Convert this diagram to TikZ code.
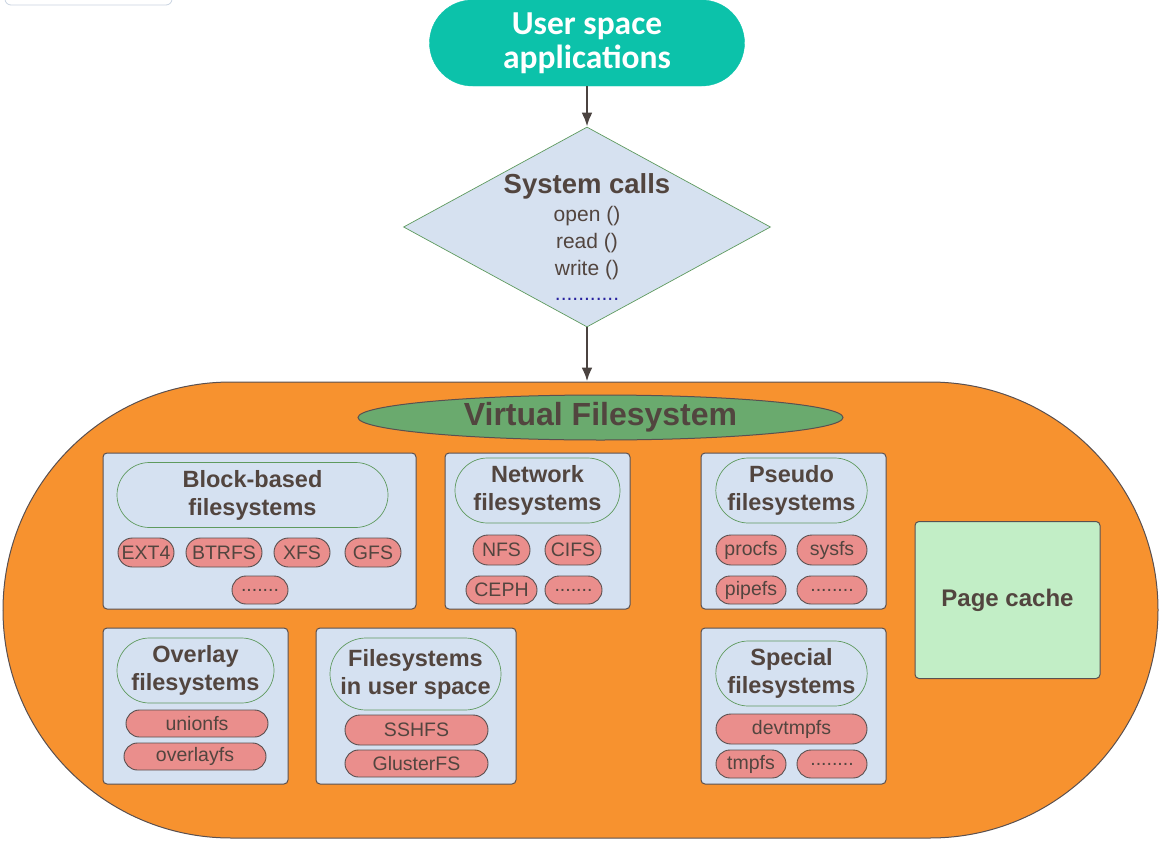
\documentclass[tikz,border=0pt]{standalone}
\usepackage{fontspec}
\setmainfont{Liberation Sans}
\newfontfamily\calfont{Carlito}
\usetikzlibrary{shapes.geometric,shapes.misc,arrows.meta}
\definecolor{txt}{HTML}{52453F}
\definecolor{edge}{HTML}{5A5050}
\definecolor{teal}{HTML}{0CC2AA}
\definecolor{diablue}{HTML}{D6E1F0}
\definecolor{greenedge}{HTML}{5E9A5E}
\definecolor{orangefill}{HTML}{F7922F}
\definecolor{vfsgreen}{HTML}{6AAA6E}
\definecolor{boxblue}{HTML}{D5E1F1}
\definecolor{chipred}{HTML}{EA8E8C}
\definecolor{pagegreen}{HTML}{C2EEC6}
\definecolor{faint}{HTML}{C8D3E0}
\definecolor{arrowgray}{HTML}{4B4340}
\tikzset{
  arr/.style={draw=arrowgray, line width=2.6pt, -{Latex[length=14pt,width=11pt]}},
  fsbox/.style={draw=edge, fill=boxblue, rounded corners=4pt, line width=1pt, inner sep=0pt},
  ttl/.style={rounded rectangle, draw=greenedge, fill=boxblue, line width=0.7pt, inner sep=0pt,
    align=center, text=txt, font=\fontsize{23.5}{28}\selectfont\bfseries},
  chip/.style={rounded rectangle, draw=edge, fill=chipred, line width=0.9pt, inner sep=0pt,
    text=txt, font=\fontsize{19.5}{22}\selectfont},
  sctext/.style={text=txt, anchor=base, inner sep=0pt, font=\fontsize{21}{24}\selectfont},
}
\begin{document}
\begin{tikzpicture}[x=1pt,y=-1pt]
\useasboundingbox (0,0) rectangle (1162,843);
% faint frame at top left
\draw[faint, line width=0.8pt, rounded corners=6pt] (5,-12) rectangle (172,5);

% user space applications
\node[rounded rectangle, draw=teal, fill=teal, minimum width=315, minimum height=86, inner sep=0pt,
  text=white, align=center, font=\calfont\fontsize{33.5}{34}\selectfont\bfseries] (usr) at (587,43)
  {User space\\applications};

% system calls diamond
\node[diamond, draw=greenedge, fill=diablue, line width=0.7pt, inner sep=0pt, shape aspect=1.835,
  minimum width=367, minimum height=200] (sc) at (587,227) {};
\node[sctext, font=\fontsize{27.5}{30}\selectfont\bfseries] (sctitle) at (587,193) {System calls};
\node[sctext] (scopen) at (587,221) {open ()};
\node[sctext] (scread) at (587,248) {read ()};
\node[sctext] (scwrite) at (587,275) {write ()};
\node[sctext, text=blue!50!txt] (scdots) at (587,300) {...........};

% orange VFS area
\node[rounded rectangle, draw=edge, fill=orangefill, line width=1pt, inner sep=0pt,
  minimum width=1155, minimum height=456] (area) at (580.5,610) {};

\draw[arr] (usr.south) -- (sc.north);
\draw[arr] (sc.south) -- (sc.south |- area.north);

% Virtual Filesystem
\node[ellipse, draw=edge, fill=vfsgreen, line width=1pt, inner sep=0pt, minimum width=485,
  minimum height=45, text=txt, font=\fontsize{32}{34}\selectfont\bfseries] (vfs) at (600.5,417.5)
  {Virtual Filesystem};

% boxes
\node[fsbox, minimum width=313, minimum height=156] (blk) at (259.5,531) {};
\node[fsbox, minimum width=185, minimum height=156] (net) at (537.5,531) {};
\node[fsbox, minimum width=185, minimum height=156] (pse) at (793.5,531) {};
\node[fsbox, minimum width=185, minimum height=156] (ovl) at (195.5,706) {};
\node[fsbox, minimum width=200, minimum height=156] (fuse) at (416,706) {};
\node[fsbox, minimum width=185, minimum height=156] (spe) at (793.5,706) {};
\node[fsbox, fill=pagegreen, minimum width=185, minimum height=157, text=txt,
  font=\fontsize{24}{28}\selectfont\bfseries] (page) at (1007.5,600) {Page cache};

% block-based
\node[ttl, minimum width=271, minimum height=65] (blkt) at (252.5,495) {Block-based\\filesystems};
\node[chip, minimum width=56, minimum height=29] (ext4) at (146,552.5) {EXT4};
\node[chip, minimum width=76, minimum height=29] (btrfs) at (224,552.5) {BTRFS};
\node[chip, minimum width=56, minimum height=29] (xfs) at (302,552.5) {XFS};
\node[chip, minimum width=56, minimum height=29] (gfs) at (373,552.5) {GFS};
\node[chip, minimum width=56, minimum height=28] (blkd) at (260,590) {.......};

% network
\node[ttl, minimum width=165, minimum height=65] (nett) at (537.5,490.5) {Network\\filesystems};
\node[chip, minimum width=57, minimum height=30] (nfs) at (501.5,550) {NFS};
\node[chip, minimum width=56, minimum height=30] (cifs) at (573,550) {CIFS};
\node[chip, minimum width=71, minimum height=28] (ceph) at (501.5,590) {CEPH};
\node[chip, minimum width=57, minimum height=28] (netd) at (573.5,590) {.......};

% pseudo
\node[ttl, minimum width=151, minimum height=65] (pset) at (791.5,490.5) {Pseudo\\filesystems};
\node[chip, minimum width=70, minimum height=30] (procfs) at (751,550) {procfs};
\node[chip, minimum width=70, minimum height=30] (sysfs) at (832,550) {sysfs};
\node[chip, minimum width=70, minimum height=28] (pipefs) at (751,590) {pipefs};
\node[chip, minimum width=70, minimum height=28] (psed) at (832,590) {........};

% overlay
\node[ttl, minimum width=157, minimum height=65] (ovlt) at (195.5,670.5) {Overlay\\filesystems};
\node[chip, minimum width=142, minimum height=27] (unionfs) at (197,723.5) {unionfs};
\node[chip, minimum width=142, minimum height=27] (overlayfs) at (195,756.5) {overlayfs};

% fuse
\node[ttl, minimum width=171, minimum height=72] (fuset) at (415.5,674) {Filesystems\\in user space};
\node[chip, minimum width=143, minimum height=30] (sshfs) at (416.5,730) {SSHFS};
\node[chip, minimum width=143, minimum height=27] (gluster) at (416.5,763.5) {GlusterFS};

% special
\node[ttl, minimum width=151, minimum height=65] (spet) at (791.5,673.5) {Special\\filesystems};
\node[chip, minimum width=151, minimum height=30] (devtmpfs) at (791.5,729) {devtmpfs};
\node[chip, minimum width=70, minimum height=28] (tmpfs) at (751,764) {tmpfs};
\node[chip, minimum width=70, minimum height=28] (sped) at (832,764) {........};
\end{tikzpicture}
\end{document}
